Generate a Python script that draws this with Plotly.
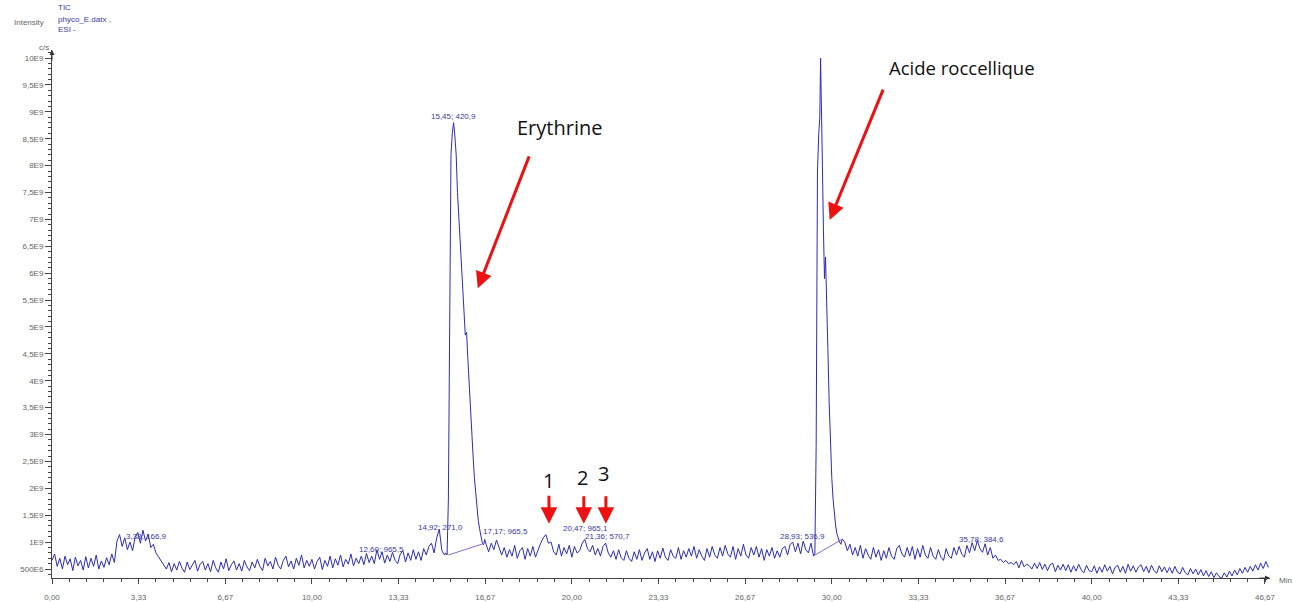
import plotly.graph_objects as go

# ---------------- data (intensity in units of 1E9 c/s, time in min) ----------------
seg_step = 0.1
# baseline segment A: 0.0 .. 15.1 min
seg_a_start = 0.0
seg_a = [
    0.66, 0.78, 0.55, 0.70, 0.50, 0.74, 0.58, 0.69, 0.47, 0.72,
    0.56, 0.66, 0.48, 0.73, 0.52, 0.70, 0.55, 0.76, 0.50, 0.65,
    0.53, 0.71, 0.58, 0.78, 0.62, 1.02, 1.14, 0.92, 1.08, 0.86,
    1.00, 0.84, 1.10, 1.18, 0.98, 1.22, 1.02, 1.15, 0.90, 0.96,
    0.80, 0.72, 0.66, 0.58, 0.50, 0.62, 0.45, 0.60, 0.48, 0.64,
    0.52, 0.44, 0.63, 0.49, 0.58, 0.66, 0.46, 0.59, 0.64, 0.48,
    0.60, 0.45, 0.66, 0.52, 0.44, 0.63, 0.50, 0.69, 0.47, 0.58,
    0.65, 0.48, 0.60, 0.46, 0.66, 0.54, 0.47, 0.63, 0.52, 0.68,
    0.55, 0.47, 0.70, 0.56, 0.64, 0.50, 0.72, 0.57, 0.50, 0.66,
    0.74, 0.54, 0.65, 0.50, 0.70, 0.57, 0.76, 0.52, 0.66, 0.55,
    0.68, 0.50, 0.64, 0.72, 0.49, 0.66, 0.55, 0.74, 0.52, 0.69,
    0.57, 0.76, 0.54, 0.68, 0.59, 0.78, 0.56, 0.70, 0.60, 0.74,
    0.58, 0.79, 0.62, 0.74, 0.60, 0.86, 0.68, 0.82, 0.61, 0.76,
    0.64, 0.81, 0.66, 0.60, 0.78, 0.84, 0.63, 0.80, 0.66, 0.86,
    0.68, 0.82, 0.66, 0.88, 0.76, 0.92, 0.98, 0.80, 1.08, 1.24,
    0.84, 0.76,
]
# Erythrine peak (explicit times)
ery_t = [15.15, 15.2, 15.25, 15.3, 15.35, 15.4, 15.45, 15.5, 15.55, 15.6,
         15.65, 15.7, 15.75, 15.8, 15.85, 15.9, 15.95, 16.0, 16.05, 16.1,
         16.15, 16.2, 16.25, 16.3, 16.35, 16.4, 16.45, 16.5, 16.55, 16.6, 16.65]
ery_v = [0.80, 0.76, 1.8, 5.5, 8.2, 8.6, 8.8, 8.55, 8.2, 7.5,
         7.1, 6.7, 6.2, 5.7, 5.3, 4.85, 4.9, 4.4, 3.9, 3.5,
         3.0, 2.6, 2.2, 1.9, 1.6, 1.4, 1.25, 1.1, 1.0, 0.95, 1.05]
# baseline segment B: 16.7 .. 29.3 min
seg_b_start = 16.7
seg_b = [
    0.96, 0.82, 0.98,
    0.86, 1.04, 0.90, 0.76, 0.90, 0.72, 0.86, 0.74, 0.94, 0.70,
    0.84, 0.90, 0.68, 0.88, 0.74, 0.92, 0.72, 0.86, 0.98, 1.08,
    1.14, 0.98, 1.00, 0.82, 0.76, 0.96, 0.74, 0.90, 0.78, 0.94,
    0.72, 0.92, 0.80, 0.84, 0.98, 1.05, 0.88, 0.82, 0.94, 0.76,
    0.88, 0.74, 0.92, 0.98, 0.80, 0.72, 0.84, 0.68, 0.86, 0.71,
    0.66, 0.84, 0.70, 0.64, 0.82, 0.68, 0.86, 0.66, 0.80, 0.88,
    0.68, 0.82, 0.64, 0.84, 0.70, 0.89, 0.72, 0.66, 0.86, 0.74,
    0.70, 0.90, 0.68, 0.84, 0.72, 0.88, 0.74, 0.92, 0.70, 0.86,
    0.74, 0.66, 0.88, 0.72, 0.92, 0.76, 0.70, 0.90, 0.74, 0.94,
    0.78, 0.72, 0.92, 0.68, 0.88, 0.74, 0.96, 0.76, 0.70, 0.90,
    0.76, 0.92, 0.72, 0.88, 0.66, 0.86, 0.74, 0.90, 0.70, 0.84,
    0.72, 0.88, 0.92, 0.76, 0.96, 1.00, 0.82, 0.98, 0.78, 1.02,
    0.86, 0.80, 0.98, 0.74,
]
# Acide roccellique peak (explicit times)
roc_t = [29.35, 29.4, 29.45, 29.5, 29.54, 29.57, 29.6, 29.64, 29.68, 29.72,
         29.76, 29.8, 29.85, 29.9, 29.95, 30.0, 30.05, 30.1, 30.15, 30.2,
         30.25, 30.3, 30.35, 30.4]
roc_v = [0.78, 2.8, 7.9, 8.6, 8.9, 10.0, 8.8, 8.0, 6.8, 5.9,
         6.3, 5.7, 4.6, 3.6, 2.8, 2.2, 1.8, 1.5, 1.3, 1.15,
         1.05, 1.0, 0.96, 1.06]
# baseline segment C: 30.5 .. 46.8 min
seg_c_start = 30.5
seg_c = [
    1.00, 0.84, 0.96, 0.76, 0.90,
    0.74, 0.94, 0.70, 0.88, 0.76, 0.68, 0.90, 0.72, 0.86, 0.66,
    0.84, 0.70, 0.90, 0.74, 0.68, 0.88, 0.94, 0.78, 0.72, 0.90,
    0.74, 0.92, 0.68, 0.88, 0.72, 0.94, 0.76, 0.70, 0.90, 0.74,
    0.68, 0.86, 0.72, 0.66, 0.88, 0.74, 0.70, 0.90, 0.76, 0.92,
    0.78, 0.72, 0.94, 0.80, 0.99, 0.84, 1.03, 0.88, 0.81, 0.97,
    0.76, 0.90, 0.70, 0.76, 0.66, 0.68, 0.62, 0.66, 0.60, 0.62,
    0.58, 0.64, 0.52, 0.66, 0.54, 0.59, 0.56, 0.50, 0.61, 0.51,
    0.62, 0.49, 0.59, 0.47, 0.58, 0.61, 0.45, 0.57, 0.48, 0.59,
    0.47, 0.58, 0.44, 0.56, 0.46, 0.59, 0.48, 0.43, 0.57, 0.47,
    0.45, 0.56, 0.42, 0.54, 0.44, 0.58, 0.46, 0.55, 0.41, 0.53,
    0.57, 0.44, 0.55, 0.42, 0.59, 0.46, 0.56, 0.44, 0.54, 0.58,
    0.45, 0.55, 0.43, 0.57, 0.47, 0.42, 0.56, 0.45, 0.54, 0.43,
    0.53, 0.42, 0.55, 0.44, 0.41, 0.53, 0.43, 0.39, 0.51, 0.41,
    0.50, 0.39, 0.49, 0.37, 0.47, 0.36, 0.45, 0.34, 0.43, 0.36,
    0.33, 0.43, 0.35, 0.46, 0.37, 0.48, 0.39, 0.51, 0.42, 0.53,
    0.44, 0.55, 0.46, 0.58, 0.48, 0.61, 0.51, 0.64, 0.53,
]

# integration baselines under the two main peaks
ery_base_t, ery_base_v = [15.25, 16.65], [0.76, 0.98]
roc_base_t, roc_base_v = [29.36, 30.35], [0.76, 1.04]

# peak labels
peak_lab_t = [3.65, 12.69, 14.96, 15.46, 17.46, 20.54, 21.38, 28.88, 29.58, 35.77]
peak_lab_v = [1.11, 0.87, 1.28, 8.92, 1.20, 1.26, 1.10, 1.11, 10.22, 1.04]
peak_lab_txt = ["3,38; 166,9", "12,60; 965,5", "14,92; 271,0", "15,45; 420,9",
                "17,17; 965,5", "20,47; 965,1", "21,36; 570,7", "28,93; 536,9",
                "29,58; 299,0", "35,78; 384,6"]

# axis ticks
y_tick_vals = [0.5, 1, 1.5, 2, 2.5, 3, 3.5, 4, 4.5, 5, 5.5, 6, 6.5, 7, 7.5, 8, 8.5, 9, 9.5, 10]
y_tick_txt = ["500E6", "1E9", "1,5E9", "2E9", "2,5E9", "3E9", "3,5E9", "4E9", "4,5E9", "5E9",
              "5,5E9", "6E9", "6,5E9", "7E9", "7,5E9", "8E9", "8,5E9", "9E9", "9,5E9", "10E9"]
x_tick_vals = [0, 3.333, 6.667, 10, 13.333, 16.667, 20, 23.333, 26.667, 30,
               33.333, 36.667, 40, 43.333, 46.667]
x_tick_txt = ["0,00", "3,33", "6,67", "10,00", "13,33", "16,67", "20,00", "23,33",
              "26,67", "30,00", "33,33", "36,67", "40,00", "43,33", "46,67"]

# ---------------- assemble trace ----------------
def grid(start, vals):
    return [round(start + i * seg_step, 2) for i in range(len(vals))]

time_all = grid(seg_a_start, seg_a) + ery_t + grid(seg_b_start, seg_b) + roc_t + grid(seg_c_start, seg_c)
tic_all = seg_a + ery_v + seg_b + roc_v + seg_c

fig = go.Figure()
fig.add_trace(go.Scatter(x=time_all, y=tic_all, mode="lines",
                         line=dict(color="#2c2cb8", width=1), showlegend=False))
for bt, bv in [(ery_base_t, ery_base_v), (roc_base_t, roc_base_v)]:
    fig.add_trace(go.Scatter(x=bt, y=bv, mode="lines",
                             line=dict(color="#8a6cc0", width=1), showlegend=False))

ann = []
for t, v, s in zip(peak_lab_t, peak_lab_v, peak_lab_txt):
    ann.append(dict(x=t, y=v, text=s, showarrow=False, xref="x", yref="y",
                    font=dict(family="Liberation Sans", size=8, color="#3a3a9c")))

big = dict(family="Open Sans", size=20, color="#111111")
ann += [
    dict(x=19.54, y=8.7, text="Erythrine", showarrow=False, font=big),
    dict(x=35.0, y=9.82, text="Acide roccellique", showarrow=False,
         font=dict(family="Open Sans", size=18.5, color="#111111")),
    dict(x=19.1, y=2.15, text="1", showarrow=False, font=big),
    dict(x=20.4, y=2.2, text="2", showarrow=False, font=big),
    dict(x=21.2, y=2.27, text="3", showarrow=False, font=big),
]
red_arrows = [  # (head t, head v, tail t, tail v)
    (16.38, 5.72, 18.38, 8.2),
    (29.92, 6.99, 32.0, 9.44),
    (19.12, 1.34, 19.12, 1.89),
    (20.46, 1.34, 20.46, 1.88),
    (21.31, 1.34, 21.31, 1.88),
]
for hx, hy, tx, ty in red_arrows:
    ann.append(dict(x=hx, y=hy, ax=tx, ay=ty, xref="x", yref="y", axref="x", ayref="y",
                    text="", showarrow=True, arrowhead=2, arrowsize=1.1, arrowwidth=3,
                    arrowcolor="#ee1111"))

small_grey = dict(family="Liberation Sans", size=8, color="#666666")
small_blue = dict(family="Liberation Sans", size=8, color="#3a3a9c")
ann += [
    dict(xref="paper", yref="paper", x=-0.033, y=1.053, text="Intensity", showarrow=False,
         xanchor="left", yanchor="middle", font=small_grey),
    dict(xref="paper", yref="paper", x=0.003, y=1.081, text="TIC", showarrow=False,
         xanchor="left", yanchor="middle", font=small_blue),
    dict(xref="paper", yref="paper", x=0.003, y=1.058, text="phyco_E.datx ,", showarrow=False,
         xanchor="left", yanchor="middle", font=small_blue),
    dict(xref="paper", yref="paper", x=0.003, y=1.038, text="ESI -", showarrow=False,
         xanchor="left", yanchor="middle", font=small_blue),
    dict(xref="paper", yref="paper", x=-0.001, y=1.004, text="c/s", showarrow=False,
         xanchor="right", yanchor="middle", font=small_grey),
    dict(xref="paper", yref="paper", x=1.006, y=-0.004, text="Min", showarrow=False,
         xanchor="left", yanchor="middle", font=small_grey),
    # axis arrows
    dict(xref="paper", yref="paper", x=0, y=1.0, ax=0, ay=12, text="", showarrow=True,
         arrowhead=2, arrowsize=1, arrowwidth=1, arrowcolor="#333333"),
    dict(xref="paper", yref="paper", x=1.0, y=0, ax=-12, ay=0, text="", showarrow=True,
         arrowhead=2, arrowsize=1, arrowwidth=1, arrowcolor="#333333"),
]

fig.update_layout(
    width=1293, height=602,
    margin=dict(l=52, r=23, t=50, b=24, autoexpand=False),
    plot_bgcolor="white", paper_bgcolor="white",
    annotations=ann,
    xaxis=dict(range=[0, 46.86], tickvals=x_tick_vals, ticktext=x_tick_txt,
               automargin=False,
               showgrid=False, zeroline=False, showline=True, linecolor="#444444",
               linewidth=1, ticks="outside", ticklen=5, tickcolor="#444444",
               ticklabelstandoff=6,
               tickfont=dict(family="Liberation Sans", size=8, color="#666666"),
               minor=dict(dtick=0.6667, tick0=0, ticks="outside", ticklen=3,
                          tickcolor="#444444", showgrid=False)),
    yaxis=dict(range=[0.333, 10.15], tickvals=y_tick_vals, ticktext=y_tick_txt,
               automargin=False,
               showgrid=False, zeroline=False, showline=True, linecolor="#444444",
               linewidth=1, ticks="outside", ticklen=6, tickcolor="#444444",
               tickfont=dict(family="Liberation Sans", size=8, color="#666666"),
               minor=dict(dtick=0.1, tick0=0, ticks="outside", ticklen=3,
                          tickcolor="#444444", showgrid=False)),
)
fig.write_html("out.html", config={"displayModeBar": False},
               post_script="document.body.style.margin='0px';document.body.style.overflow='hidden';")
